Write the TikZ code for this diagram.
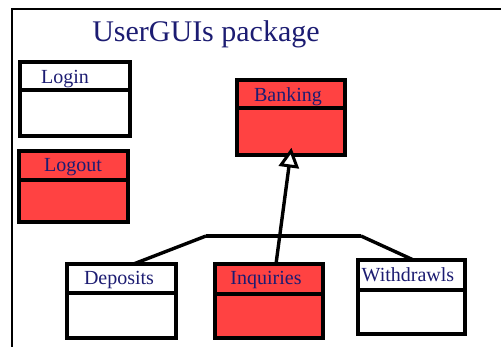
\documentclass[tikz,border=0pt]{standalone}
\usepackage{fontspec}
\setmainfont{Liberation Serif}
\usetikzlibrary{calc}
\definecolor{umlred}{HTML}{FF4242}
\definecolor{navy}{HTML}{1C1C72}
\tikzset{
  cls/.style={draw=black, line width=3.6pt, anchor=north west, inner sep=0pt, outer sep=0pt},
  redcls/.style={cls, fill=umlred},
  whitecls/.style={cls, fill=white},
  lbl/.style={text=navy, font=\fontsize{20}{22}\selectfont, inner sep=0pt},
  divider/.style={draw=black, line width=3.6pt},
  conn/.style={draw=black, line width=3.4pt},
  hollowtip/.style={draw=black, fill=white, line width=3pt, line join=miter},
}
\begin{document}
\begin{tikzpicture}[x=1pt,y=-1pt]
\useasboundingbox (0,0) rectangle (501,347);
\fill[white] (0,0) rectangle (501,347);
\draw[line width=2.8pt] (12,347) -- (12,9) -- (501,9);
\node[text=navy, font=\fontsize{30}{32}\selectfont, inner sep=0pt, anchor=base] (title) at (206,42) {UserGUIs package};
% Login
\node[whitecls, minimum width=110pt, minimum height=74pt] (login) at (20,62) {};
\draw[divider] ($(login.north west)+(0,28)$) -- ($(login.north east)+(0,28)$);
\node[lbl, anchor=base] (loginT) at (65,84) {Login};
% Logout
\node[redcls, minimum width=109pt, minimum height=71pt] (logout) at (19,151) {};
\draw[divider] ($(logout.north west)+(0,29)$) -- ($(logout.north east)+(0,29)$);
\node[lbl, anchor=base] (logoutT) at (73,172) {Logout};
% Banking
\node[redcls, minimum width=108pt, minimum height=75pt] (bank) at (237,80) {};
\draw[divider] ($(bank.north west)+(0,28)$) -- ($(bank.north east)+(0,28)$);
\node[lbl, anchor=base] (bankT) at (288,102) {Banking};
% Deposits
\node[whitecls, minimum width=109pt, minimum height=74pt] (dep) at (67,264) {};
\draw[divider] ($(dep.north west)+(0,29)$) -- ($(dep.north east)+(0,29)$);
\node[lbl, anchor=base] (depT) at (119,285) {Deposits};
% Inquiries
\node[redcls, minimum width=108pt, minimum height=74pt] (inq) at (215,264) {};
\draw[divider] ($(inq.north west)+(0,30)$) -- ($(inq.north east)+(0,30)$);
\node[lbl, anchor=base] (inqT) at (266,285) {Inquiries};
% Withdrawls
\node[whitecls, minimum width=107pt, minimum height=74pt] (wd) at (358,260) {};
\draw[divider] ($(wd.north west)+(0,30)$) -- ($(wd.north east)+(0,30)$);
\node[lbl, anchor=base] (wdT) at (408,282) {Withdrawls};
% generalization
\coordinate (jl) at (206,236);
\coordinate (jr) at (361,236);
\coordinate (istart) at ([xshift=7pt]inq.north);
\coordinate (apex) at ([yshift=4pt]bank.south);
\coordinate (tipbase) at ($(apex)!15pt!(istart)$);
\draw[conn] (jl) -- (jr);
\draw[conn] ([xshift=12pt]dep.north) -- (jl);
\draw[conn] ([xshift=2pt]wd.north) -- (jr);
\draw[conn] (istart) -- (tipbase);
\draw[hollowtip] (apex) -- ($(tipbase)!8pt!90:(apex)$) -- ($(tipbase)!8pt!-90:(apex)$) -- cycle;
\end{tikzpicture}
\end{document}
